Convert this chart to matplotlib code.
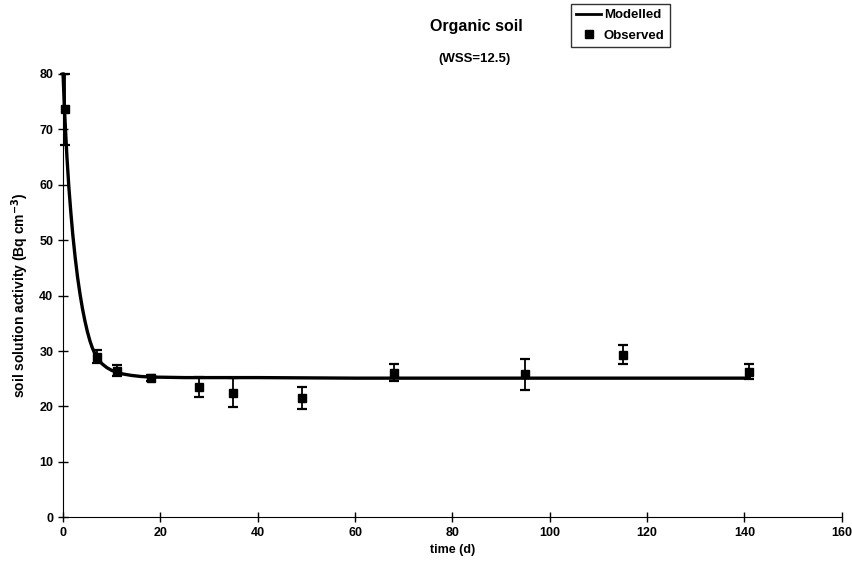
import numpy as np
import matplotlib
matplotlib.use('Agg')
import matplotlib.pyplot as plt
from matplotlib.lines import Line2D

obs_t = [0.3, 7, 11, 18, 28, 35, 49, 68, 95, 115, 141]
obs_y = [73.6, 29.0, 26.4, 25.1, 23.5, 22.5, 21.5, 26.1, 25.8, 29.3, 26.3]
obs_err = [6.4, 1.1, 1.0, 0.5, 1.8, 2.6, 2.0, 1.5, 2.8, 1.7, 1.4]

# modelled curve
mod_t = [0, 0.25, 0.5, 0.8, 1.2, 1.6, 2.0, 2.5, 3.0, 3.5, 4.0, 4.5, 5.0, 5.5, 6.0, 6.5,
         7, 8, 9, 10, 11, 12, 14, 16, 18, 25, 40, 60, 100, 141]
mod_y = [80, 74.5, 70, 65, 59.5, 55, 51, 46.8, 43.2, 40.2, 37.6, 35.4, 33.5, 31.9, 30.6, 29.6,
         28.8, 27.7, 27.0, 26.5, 26.2, 25.9, 25.6, 25.4, 25.3, 25.2, 25.2, 25.1, 25.1, 25.1]

plt.rcParams['font.family'] = ['Liberation Sans', 'DejaVu Sans']
plt.rcParams['font.weight'] = 'bold'
plt.rcParams['mathtext.default'] = 'bf'

fig = plt.figure(figsize=(8.52, 5.69), dpi=100)
ax = fig.add_axes([0.074, 0.091, 0.914, 0.779])

ax.plot(mod_t, mod_y, '-', color='black', lw=2.4, solid_joinstyle='round', clip_on=False)
ax.errorbar(obs_t, obs_y, yerr=obs_err, fmt='s', color='black', ms=5.5,
            elinewidth=1.3, capsize=3.5, capthick=1.6, clip_on=False)

ax.set_xlim(0, 160)
ax.set_ylim(0, 80)
ax.set_xticks(np.arange(0, 161, 20))
ax.set_yticks(np.arange(0, 81, 10))
ax.spines['top'].set_visible(False)
ax.spines['right'].set_visible(False)
ax.tick_params(direction='inout', length=7, width=1, labelsize=9)
for lab in ax.get_xticklabels() + ax.get_yticklabels():
    lab.set_fontweight('bold')

ax.set_xlabel('time (d)', fontsize=9, fontweight='bold', labelpad=4)
ax.set_ylabel(r'soil solution activity (Bq cm$^{-3}$)', fontsize=10, fontweight='bold', labelpad=6)

fig.text(0.559, 0.954, 'Organic soil', ha='center', va='center', fontsize=11.5, fontweight='bold')
fig.text(0.557, 0.897, '(WSS=12.5)', ha='center', va='center', fontsize=9.5, fontweight='bold')

handles = [Line2D([], [], color='black', lw=2),
           Line2D([], [], color='black', marker='s', ls='none', ms=5.5)]
leg = fig.legend(handles, ['Modelled', 'Observed'], loc='upper left',
                 bbox_to_anchor=(0.670, 0.993), frameon=True, fancybox=False,
                 edgecolor='black', handlelength=1.9, handletextpad=0.2,
                 borderpad=0.4, labelspacing=0.6, borderaxespad=0,
                 prop={'weight': 'bold', 'size': 9.5})
leg.get_frame().set_linewidth(1.0)

plt.savefig('out.png', dpi=100)
